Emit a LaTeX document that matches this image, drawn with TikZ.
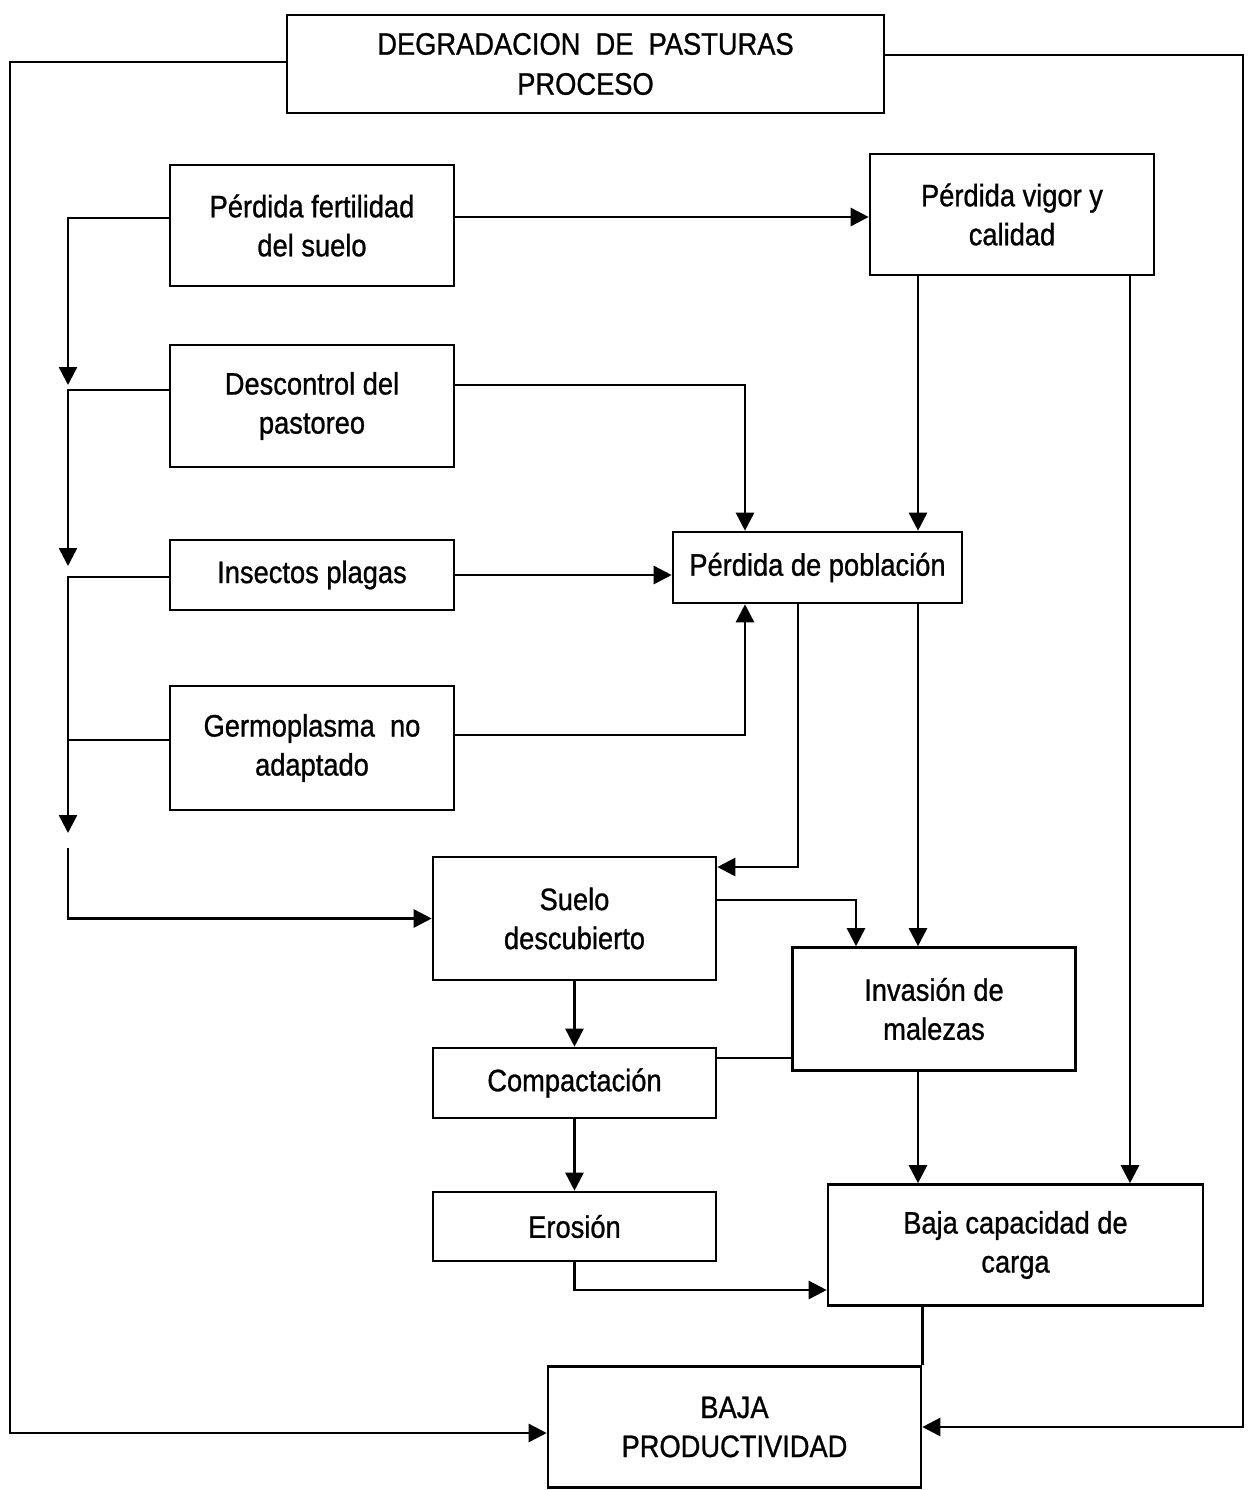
\documentclass[tikz,border=0pt]{standalone}
\usepackage{fontspec}
\setmainfont{Liberation Sans}[FakeStretch=0.88,FakeBold=0.9]
\usetikzlibrary{arrows.meta,calc}
\begin{document}
\begin{tikzpicture}[x=0.5pt,y=-0.5pt,
  box/.style={draw,line width=1.3pt,align=center,inner sep=0pt,
    font=\fontsize{15.5pt}{19.5pt}\selectfont},
  ln/.style={line width=1.3pt},
  arr/.style={line width=1.3pt,-{Triangle[length=9pt,width=9pt]}}]
\fill[white] (0,0) rectangle (1253,1490);
\useasboundingbox (0,0) rectangle (1253,1490);
% nodes
\node[box,minimum width=298.5pt,minimum height=49pt,
  font=\fontsize{15.5pt}{20pt}\selectfont] (title) at (585.5,64)
  {DEGRADACION\ \ DE\ \ PASTURAS\\PROCESO};
\node[box,minimum width=142pt,minimum height=60.5pt] (fert) at (312,225.5) {Pérdida fertilidad\\del suelo};
\node[box,minimum width=142pt,minimum height=60.5pt] (vigor) at (1012,214.5) {Pérdida vigor y\\calidad};
\node[box,minimum width=142pt,minimum height=61pt] (desc) at (312,406) {Descontrol del\\pastoreo};
\node[box,minimum width=142pt,minimum height=35pt] (insect) at (312,575) {Insectos plagas};
\node[box,minimum width=142pt,minimum height=62pt] (germ) at (312,748) {Germoplasma\ \ no\\adaptado};
\node[box,minimum width=144.5pt,minimum height=35.5pt] (pp) at (817.5,567.5) {Pérdida de población};
\node[box,minimum width=141.5pt,minimum height=61.5pt] (suelo) at (574.5,918.5) {Suelo\\descubierto};
\node[box,minimum width=141.5pt,minimum height=61.5pt] (inv) at (934,1009) {Invasión de\\malezas};
\node[box,minimum width=141.5pt,minimum height=35pt] (comp) at (574.5,1083) {Compactación};
\node[box,minimum width=141.5pt,minimum height=34.5pt] (eros) at (574.5,1226.5) {Erosión};
\node[box,minimum width=187.5pt,minimum height=60.5pt] (bcc) at (1015.5,1245) {Baja capacidad de\\carga};
\node[box,minimum width=186.5pt,minimum height=60.5pt] (bp) at (734.5,1427) {BAJA\\PRODUCTIVIDAD};
% helper coordinates
\coordinate (lc) at (10,1433);
\coordinate (rc) at (1243,1427);
\coordinate (f1) at (68,218);
\coordinate (b1) at (68,385);
\coordinate (d1) at (68,390);
\coordinate (b2) at (68,566);
\coordinate (i1) at (68,577);
\coordinate (b3) at (68,833);
\coordinate (g1) at (68,740);
\coordinate (s1) at (68,848);
\coordinate (x745) at (745,0);
\coordinate (x918) at (918,0);
\coordinate (x1130) at (1130,0);
\coordinate (g2) at (745,735);
\coordinate (x798) at (798,0);
\coordinate (ps) at (798,867);
\coordinate (si) at (856,900);
\coordinate (ic) at (750,1058);
\coordinate (eb) at (580,1290);
\coordinate (fv) at (600,217);
% connectors
\draw[arr] ([yshift=1pt]title.west) -| (lc) -- (bp.west |- lc);
\draw[arr] ([yshift=4.5pt]title.east) -| (rc) -- (bp.east |- rc);
\draw[arr] (fert.east |- fv) -- (vigor.west |- fv);
\draw[arr] (fert.west |- f1) -- (f1) -- (b1);
\draw[arr] (desc.west |- d1) -- (d1) -- (b2);
\draw[arr] (insect.west |- i1) -- (i1) -- (b3);
\draw[ln] (germ.west |- g1) -- (g1);
\draw[arr] (s1) |- (suelo.west);
\draw[arr] (desc.east |- b1) -| (x745 |- pp.north);
\draw[arr] (x918 |- vigor.south) -- (x918 |- pp.north);
\draw[arr] (insect.east) -- (pp.west |- insect.east);
\draw[arr] (germ.east |- g2) -- (g2) -- (x745 |- pp.south);
\draw[arr] (x798 |- pp.south) -- (ps) -- (suelo.east |- ps);
\draw[arr] (x918 |- pp.south) -- (x918 |- inv.north);
\draw[arr] (suelo.east |- si) -- (si) -- (si |- inv.north);
\draw[arr] (suelo.south) -- (comp.north);
\draw[ln] (inv.west |- ic) -- (comp.east |- ic);
\draw[arr] (comp.south) -- (eros.north);
\draw[arr] (eros.south) |- (bcc.west |- eb);
\draw[arr] (x918 |- inv.south) -- (x918 |- bcc.north);
\draw[arr] (x1130 |- vigor.south) -- (x1130 |- bcc.north);
\draw[ln] (bp.east |- bcc.south) -- (bp.north east);
\end{tikzpicture}
\end{document}
